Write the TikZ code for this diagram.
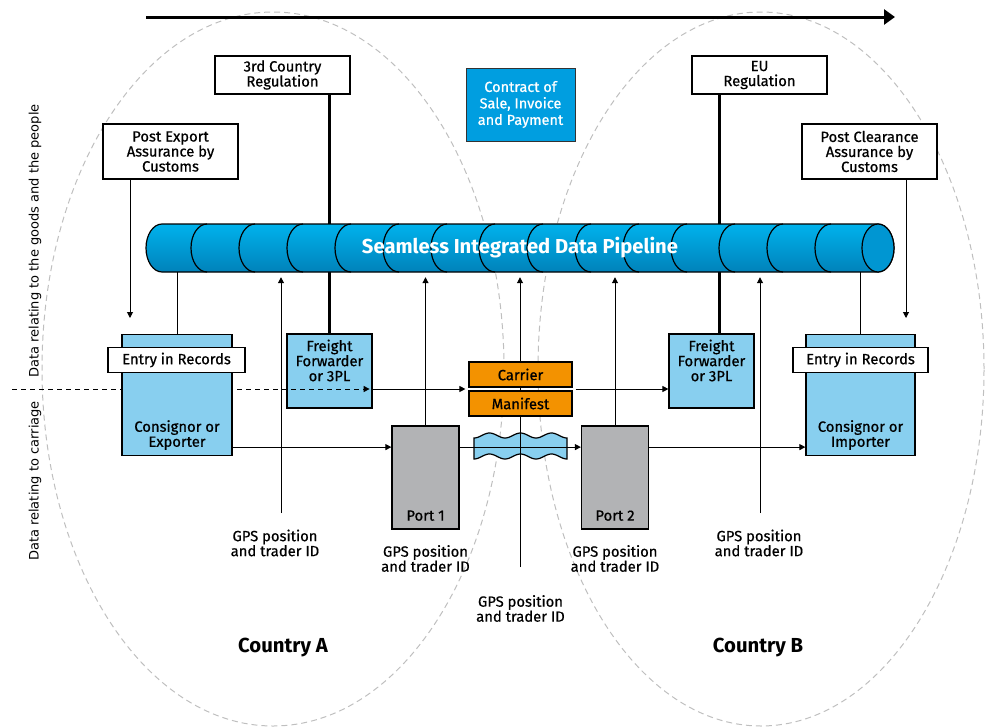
\documentclass[tikz,border=0pt]{standalone}
\usepackage{fontspec}
\setmainfont{Fira Sans}[FakeBold=0.7]
\newfontfamily\sidefont{DejaVu Sans}
\newfontfamily\headfont{Fira Sans}[UprightFont=*-Bold]
\usetikzlibrary{arrows.meta,positioning}

\definecolor{pipetop}{HTML}{00B2EC}
\definecolor{pipebot}{HTML}{0082BA}
\definecolor{pipecap}{HTML}{0096D2}
\definecolor{boxblue}{HTML}{88CFEF}
\definecolor{portgray}{HTML}{B2B3B5}
\definecolor{cargo}{HTML}{F39200}
\definecolor{dealblue}{HTML}{009EE0}

\begin{document}
\begin{tikzpicture}[x=1pt, y=-1pt, >={Triangle[length=6pt,width=6pt]},
  font=\fontsize{14.8}{15}\selectfont,
  box/.style={draw, line width=1.2pt, fill=white, inner sep=0pt, align=center},
  bluebox/.style={box, fill=boxblue},
  portbox/.style={box, fill=portgray, minimum width=67pt, minimum height=103pt},
  cargobox/.style={box, fill=cargo, minimum width=103pt, minimum height=25pt},
  txt/.style={inner sep=0pt, align=center},
  link/.style={line width=1pt},
  regline/.style={line width=2.8pt},
  zone/.style={draw=black!25, line width=1pt, dash pattern=on 6pt off 4pt}]
  \useasboundingbox (0,0) rectangle (988,726);

  % the two countries
  \draw[zone] (273,369) ellipse[x radius=231pt, y radius=357pt];
  \draw[zone] (761,369) ellipse[x radius=223pt, y radius=357pt];

  % time line
  \coordinate (start) at (146,17);
  \coordinate (finish) at (895,17);
  \draw[->, line width=3pt, >={Triangle[length=11pt,width=15pt]}] (start) -- (finish);

  % regulation, contract and assurance
  \node (reg3) [box, minimum width=135pt, minimum height=38pt] at (282.5,75) {3rd Country\\Regulation};
  \node (eureg) [box, minimum width=135pt, minimum height=38pt] at (759.5,75) {EU\\Regulation};
  \node (deal) [box, fill=dealblue, draw=black!80, line width=1pt, text=white, minimum width=109pt, minimum height=73pt, font=\fontsize{14.5}{16.5}\selectfont] at (520.5,104.5) {Contract of\\Sale, Invoice\\and Payment};
  \node (pexp) [box, minimum width=135pt, minimum height=55pt] at (170.5,151.5) {Post Export\\Assurance by\\Customs};
  \node (pclr) [box, minimum width=135pt, minimum height=55pt] at (869.5,151.5) {Post Clearance\\Assurance by\\Customs};

  % forwarders
  \node (ffa) [bluebox, minimum width=85pt, minimum height=74pt] at (329.5,371) {};
  \node (ffatext) [txt, below=6pt of ffa.north] {Freight\\Forwarder\\or 3PL};
  \node (ffb) [bluebox, minimum width=85pt, minimum height=74pt] at (711.5,371) {};
  \node (ffbtext) [txt, below=6pt of ffb.north] {Freight\\Forwarder\\or 3PL};

  \draw[regline] (ffa.north |- reg3.south) -- (ffa.north);
  \coordinate (eux) at ([xshift=8pt]ffb.north);
  \draw[regline] (eux |- eureg.south) -- (eux);

  \coordinate (pexpend) at (130,318);
  \draw[->, link] (pexpend |- pexp.south) -- (pexpend);
  \coordinate (pclrend) at (906,318);
  \draw[->, link] (pclrend |- pclr.south) -- (pclrend);

  % data pipeline
  \shadedraw[top color=pipetop, bottom color=pipebot, line width=1.2pt]
    (162,224) -- (878,224) arc[start angle=90, end angle=-90, x radius=16pt, y radius=24pt]
    -- (162,272) arc[start angle=270, end angle=90, x radius=16pt, y radius=24pt] -- cycle;
  \foreach \k in {0,...,13}
    \draw[line width=1.2pt] ({207+48*\k},224) arc[start angle=90, end angle=270, x radius=16pt, y radius=24pt];
  \draw[line width=1.2pt, fill=pipecap] (878,248) ellipse[x radius=16pt, y radius=24pt];
  \node (pipe) [minimum width=716pt, minimum height=48pt, inner sep=0pt, text=white, font=\headfont\fontsize{20.2}{22}\selectfont] at (520,248) {Seamless Integrated Data Pipeline};

  % sea crossing
  \draw[line width=1.2pt, fill=boxblue]
    plot[domain=474:567, samples=60, smooth] (\x,{435.5+2.5*cos((\x-474)*11.613)})
    -- plot[domain=567:474, samples=60, smooth] (\x,{456.5+2.5*cos((\x-474)*11.613)}) -- cycle;

  \coordinate (gpsc) at (520,567);
  \draw[->, link, shorten >=5pt] (gpsc) -- (gpsc |- pipe.south);
  \node (carrier) [cargobox] at (520.5,374.5) {Carrier};
  \node (manifest) [cargobox] at (520.5,403.5) {Manifest};

  % carriage data
  \coordinate (carriage) at (12,389);
  \draw[->, link, dash pattern=on 5pt off 4pt, shorten >=3pt] (carriage) -- (ffa.east |- carriage);
  \draw[->, link, shorten >=3pt] (ffa.east |- carriage) -- (carrier.west |- carriage);
  \draw[->, link, shorten <=3pt] (carrier.east |- carriage) -- (ffb.west |- carriage);

  % traders
  \node (exp) [bluebox, minimum width=110pt, minimum height=121pt] at (177,395) {};
  \node (exptext) [txt, above=6pt of exp.south] {Consignor or\\Exporter};
  \node (reca) [box, minimum width=137pt, minimum height=25pt] at (176.5,360) {Entry in Records};
  \node (imp) [bluebox, minimum width=109pt, minimum height=121pt] at (860.5,395) {};
  \node (imptext) [txt, above=6pt of imp.south] {Consignor or\\Importer};
  \node (recb) [box, minimum width=135pt, minimum height=25pt] at (860.5,360) {Entry in Records};

  \draw[link] (pipe.south -| exp.north) -- (exp.north);
  \draw[link] (pipe.south -| imp.north) -- (imp.north);

  % ports
  \node (port1) [portbox] at (425.5,477.5) {};
  \node (port1text) [txt, anchor=base] at ([yshift=9pt]port1.south) {Port 1};
  \node (port2) [portbox] at (615,477.5) {};
  \node (port2text) [txt, anchor=base] at ([yshift=9pt]port2.south) {Port 2};

  \coordinate (flow) at ([yshift=9pt]exp.south east);
  \draw[->, link] (flow) -- (flow -| port1.west);
  \draw[->, link] (flow -| port1.east) -- (flow -| port2.west);
  \draw[->, link] (flow -| port2.east) -- (flow -| imp.west);

  % position reports
  \coordinate (gpsa) at (281,513);
  \draw[->, link, shorten >=5pt] (gpsa) -- (gpsa |- pipe.south);
  \draw[->, link, shorten >=5pt] (port1.north) -- (port1.north |- pipe.south);
  \draw[->, link, shorten >=5pt] (port2.north) -- (port2.north |- pipe.south);
  \coordinate (gpse) at (760,513);
  \draw[->, link, shorten >=5pt] (gpse) -- (gpse |- pipe.south);

  \node (gpsatext) [txt] at (275,543) {GPS position\\and trader ID};
  \node (gpsbtext) [txt] at (425.5,558.5) {GPS position\\and trader ID};
  \node (gpsctext) [txt] at (520.5,608.5) {GPS position\\and trader ID};
  \node (gpsdtext) [txt] at (615,558.5) {GPS position\\and trader ID};
  \node (gpsetext) [txt] at (759,543) {GPS position\\and trader ID};

  \node (ctya) [font=\headfont\fontsize{20.3}{22}\selectfont] at (283,648) {Country A};
  \node (ctyb) [font=\headfont\fontsize{20.3}{22}\selectfont] at (758,648) {Country B};

  \node (goods) [rotate=90, font=\sidefont\fontsize{13}{14}\selectfont] at (35,241) {Data relating to the goods and the people};
  \node (carr) [rotate=90, font=\sidefont\fontsize{13}{14}\selectfont] at (35,481) {Data relating to carriage};
\end{tikzpicture}
\end{document}
